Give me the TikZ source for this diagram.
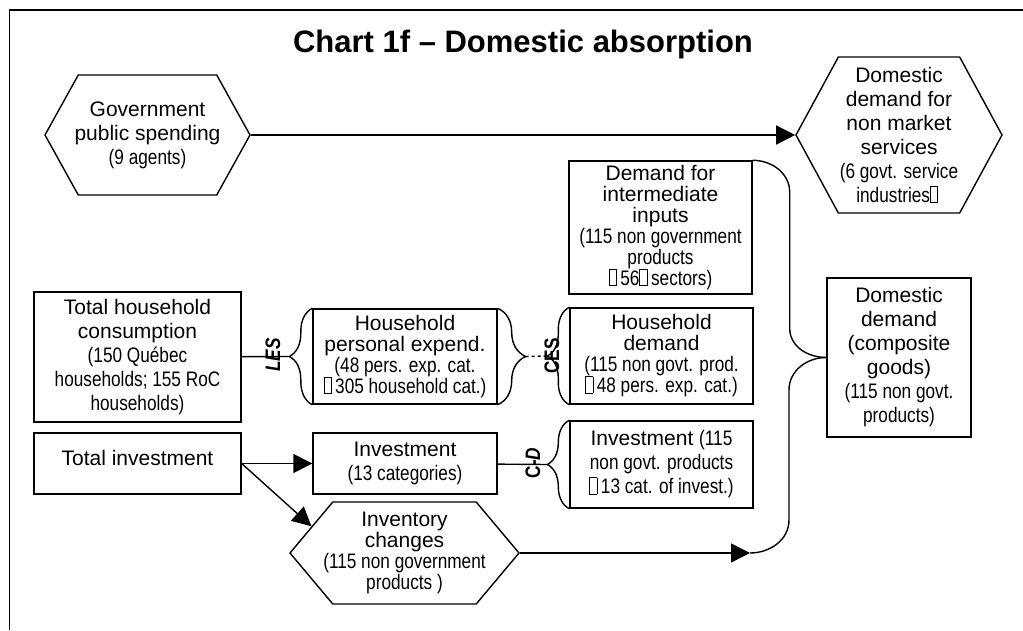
\documentclass[tikz,border=0pt]{standalone}
\usepackage{fontspec}
\setmainfont{Liberation Sans}
\newfontfamily\narrowfont[FakeStretch=0.82]{Liberation Sans}
\usetikzlibrary{arrows.meta,positioning,shapes.symbols,decorations.pathreplacing}

\newcommand{\nar}{\narrowfont}
\newcommand{\tofu}{{\setlength{\fboxsep}{0pt}\setlength{\fboxrule}{0.7pt}\fbox{\rule{0pt}{0.75em}\hspace{0.32em}}}\,}

\tikzset{
  >={Triangle[length=19pt,width=19pt]},
  every node/.style={font=\fontsize{21}{24}\selectfont},
  box/.style={draw, rectangle, align=center, inner sep=0pt},
  hexa/.style={draw, shape=signal, signal to=west and east, inner sep=0pt},
  tight/.style={font=\fontsize{21}{21}\selectfont},
  brc/.style={decorate, decoration={brace, amplitude=#1}},
  tag/.style={rotate=90, inner sep=0pt, font=\narrowfont\bfseries\fontsize{21}{21}\selectfont},
}

\begin{document}
\begin{tikzpicture}[x=1pt, y=1pt, line width=1.4pt]
\useasboundingbox (0,0) rectangle (1023,630);
\draw[line width=1.5pt] (1023,620) -- (9.5,620) -- (9.5,0);

\node[anchor=base, font=\bfseries\fontsize{31}{36}\selectfont] (title) at (523,577) {Chart 1f – Domestic absorption};

% government
\node[hexa, signal pointer angle=122, minimum width=205pt, minimum height=120pt,
  label={[align=center]center:Government\\public spending\\{\nar(9 agents)}}] (gov) at (147.5,495) {};
\node[hexa, signal pointer angle=123, minimum width=206pt, minimum height=156pt,
  label={[align=center]center:Domestic\\demand for\\non market\\services\\{\nar(6 govt. service}\\{\nar industries\tofu}}] (dnm) at (899,495) {};
\draw[->] (gov) -- (dnm);

% intermediate and composite demand
\node[box, tight, minimum width=183pt, minimum height=133pt] (interm) at (660.5,402.5)
  {Demand for\\intermediate\\inputs\\{\nar(115 non government}\\{\nar products}\\{\nar\tofu56\tofu sectors)}};
\node[box, minimum width=144pt, minimum height=159pt] (dd) at (899,272.5)
  {Domestic\\demand\\(composite\\goods)\\{\nar(115 non govt.}\\{\nar products)}};

% households
\node[box, minimum width=207pt, minimum height=130pt] (thc) at (137.5,273)
  {Total household\\consumption\\{\nar(150 Québec}\\{\nar households; 155 RoC}\\{\nar households)}};
\node[box, tight, minimum width=184pt, minimum height=95pt] (hpe) at (405,273.5)
  {Household\\personal expend.\\{\nar(48 pers. exp. cat.}\\{\nar\tofu305 household cat.)}};
\node[box, tight, minimum width=183pt, minimum height=96pt] (hd) at (661.5,274)
  {Household\\demand\\{\nar(115 non govt. prod.}\\{\nar\tofu48 pers. exp. cat.)}};

% investment
\node[box, minimum width=207pt, minimum height=61pt, text depth=11pt] (ti) at (137.5,166.5) {Total investment};
\node[box, minimum width=184pt, minimum height=61pt] (inv) at (405,166.5)
  {Investment\\{\nar(13 categories)}};
\node[box, minimum width=183pt, minimum height=87pt] (invc) at (661.5,165.5)
  {Investment {\nar(115}\\{\nar non govt. products}\\{\nar\tofu13 cat. of invest.)}};
\node[hexa, signal pointer angle=100, minimum width=229pt, minimum height=102pt,
  label={[tight, align=center]center:Inventory\\changes\\{\nar(115 non government}\\{\nar products )}}] (invch) at (404.5,77) {};

% braces
\draw[brc=23pt] (hpe.south west) -- (hpe.north west);
\draw[brc=28pt] (hpe.north east) -- (hpe.south east);
\draw[brc=22pt] (hd.south west) -- (hd.north west);
\draw[brc=22pt] (invc.south west) -- (invc.north west);
\coordinate[left=23pt of hpe.west] (lestip);
\coordinate[right=28pt of hpe.east] (cesa);
\coordinate[left=22pt of hd.west] (cesb);
\coordinate[left=22pt of invc.west] (cdtip);

\draw (thc) -- (lestip);
\draw[dashed] (cesa) -- (cesb);
\draw (inv) -- (cdtip);
\node[tag, font=\narrowfont\bfseries\itshape\fontsize{21}{21}\selectfont] (les) at (273,275) {LES};
\node[tag] (ces) at (552,274) {CES};
\node[tag] (cd) at (533,167) {C-\textit{D}};

\draw[->] (ti) -- (inv);
\draw[->] (ti.east) -- (invch.164);
\coordinate (invtip) at (750,77);
\draw[->] (invch) -- (invtip);
\draw (invtip) to[out=0,in=-90] ++(39,33) -- ++(0,130) to[out=90,in=180] (dd.west);
\draw (interm.north east) to[out=0,in=90] ++(37,-32) -- ++(0,-136) to[out=-90,in=180] (dd.west);

\end{tikzpicture}
\end{document}
